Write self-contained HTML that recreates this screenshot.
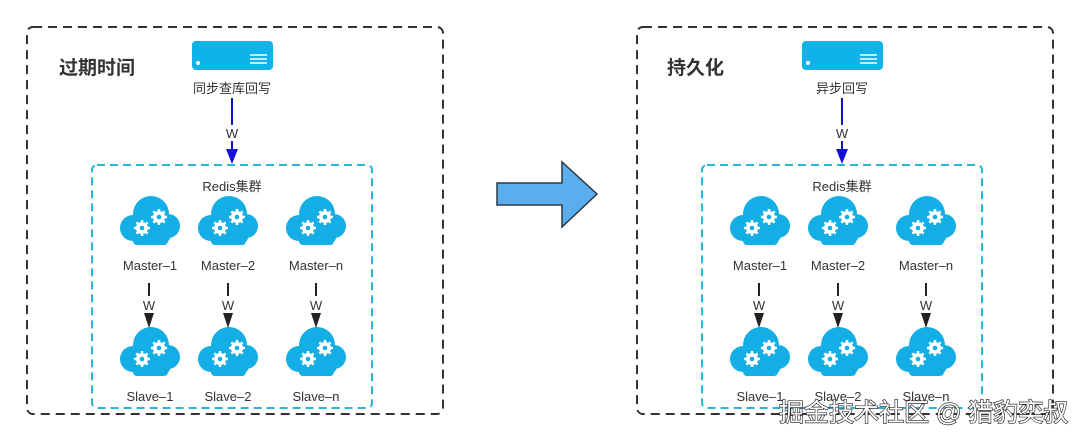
<!DOCTYPE html>
<html><head><meta charset="utf-8"><style>
html,body{margin:0;padding:0;background:#fff;}
svg text{font-family:"Liberation Sans","Noto Sans CJK SC",sans-serif;fill:#333;}
</style></head><body>
<svg width="1080" height="440" viewBox="0 0 1080 440" xmlns="http://www.w3.org/2000/svg">
<defs>
<g id="cloud">
  <g fill="#14aee6">
    <circle cx="-17" cy="8" r="13"/>
    <circle cx="1" cy="-6" r="18"/>
    <circle cx="18" cy="6" r="12"/>
    <circle cx="-4" cy="12" r="13"/>
    <circle cx="10" cy="14" r="11"/>
    <rect x="-17" y="6" width="35" height="19" rx="4"/>
  </g>
  <g fill="#fff">
    <circle cx="-8" cy="8" r="6"/><circle cx="9" cy="-3" r="6"/>
  </g>
  <g stroke="#fff" stroke-width="2.5">
    <path d="M-8,0 V16 M-16,8 H0 M-13.6,2.4 L-2.4,13.6 M-13.6,13.6 L-2.4,2.4"/>
    <path d="M9,-11 V5 M1,-3 H17 M3.4,-8.6 L14.6,2.6 M3.4,2.6 L14.6,-8.6"/>
  </g>
  <circle cx="-8" cy="8" r="2.3" fill="#14aee6"/><circle cx="9" cy="-3" r="2.3" fill="#14aee6"/>
</g>
<g id="panel">
  <rect x="27" y="27" width="416" height="387" rx="6" fill="none" stroke="#333" stroke-width="2" stroke-dasharray="9,6"/>
  <rect x="92" y="165" width="280" height="243" rx="5" fill="none" stroke="#29b6d8" stroke-width="2" stroke-dasharray="8,5"/>
  <rect x="192" y="41" width="81" height="29" rx="4" fill="#0fb3e8"/>
  <circle cx="198" cy="63" r="2" fill="#fff"/>
  <path d="M250,55 H267 M250,59 H267 M250,63 H267" stroke="#fff" stroke-width="1.6"/>
  <line x1="232" y1="98" x2="232" y2="125" stroke="#1010d0" stroke-width="2"/>
  <text x="232" y="138" font-size="13" text-anchor="middle">W</text>
  <line x1="232" y1="141" x2="232" y2="150" stroke="#1010d0" stroke-width="2"/>
  <polygon points="226,149 238,149 232,164" fill="#1010d0"/>
  <text x="232" y="191" font-size="13" text-anchor="middle">Redis集群</text>
  <use href="#cloud" x="150" y="220"/><use href="#cloud" x="228" y="220"/><use href="#cloud" x="316" y="220"/>
  <use href="#cloud" x="150" y="351"/><use href="#cloud" x="228" y="351"/><use href="#cloud" x="316" y="351"/>
  <g font-size="13" text-anchor="middle">
    <text x="150" y="270">Master–1</text><text x="228" y="270">Master–2</text><text x="316" y="270">Master–n</text>
    <text x="150" y="401">Slave–1</text><text x="228" y="401">Slave–2</text><text x="316" y="401">Slave–n</text>
  </g>
  <g stroke="#222" stroke-width="2">
    <line x1="149" y1="283" x2="149" y2="296"/><line x1="228" y1="283" x2="228" y2="296"/><line x1="316" y1="283" x2="316" y2="296"/>
  </g>
  <g font-size="13" text-anchor="middle">
    <text x="149" y="310">W</text><text x="228" y="310">W</text><text x="316" y="310">W</text>
  </g>
  <g fill="#222">
    <polygon points="144,313 154,313 149,328"/><polygon points="223,313 233,313 228,328"/><polygon points="311,313 321,313 316,328"/>
  </g>
</g>
</defs>
<use href="#panel"/>
<text x="59" y="74" font-size="19" font-weight="bold">过期时间</text>
<text x="232" y="93" font-size="13" text-anchor="middle">同步查库回写</text>
<use href="#panel" x="610"/>
<text x="667" y="74" font-size="19" font-weight="bold">持久化</text>
<text x="842" y="93" font-size="13" text-anchor="middle">异步回写</text>
<polygon points="497,183 562,183 562,162 597,194 562,227 562,205 497,205" fill="#5aaeee" stroke="#2a3a44" stroke-width="1.5"/>
<text x="779" y="421" font-size="25" style="fill:#fff;stroke:#333;stroke-width:1.4;paint-order:stroke">掘金技术社区 @ 猎豹奕叔</text>
</svg>
</body></html>
